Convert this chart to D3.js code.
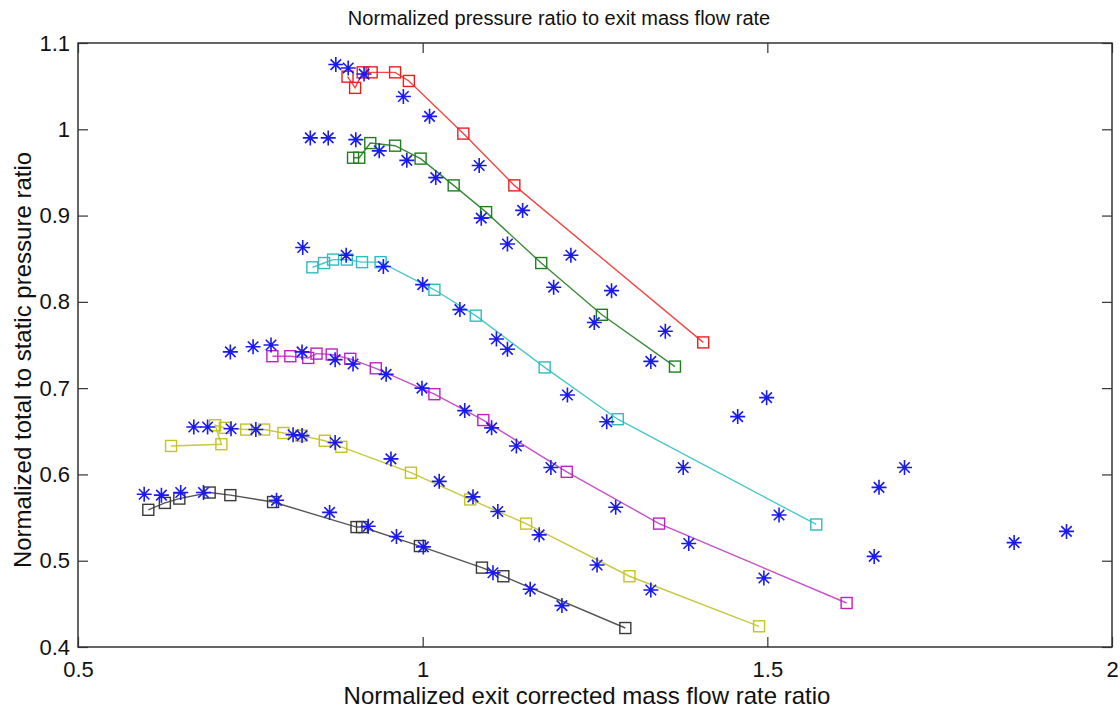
<!DOCTYPE html>
<html>
<head>
<meta charset="utf-8">
<script src="https://cdn.jsdelivr.net/npm/d3@7"></script>
<style>
  body { margin: 0; background: #fff; }
  text { font-family: Arial, "Liberation Sans", sans-serif; fill: #111; }
</style>
</head>
<body>
<div id="chart"></div>
<script>
// measured curves (squares + line)
let redX = [0.891, 0.902, 0.913, 0.926, 0.960, 0.980, 1.059, 1.133, 1.407],
  redY = [1.061, 1.048, 1.066, 1.066, 1.066, 1.056, 0.995, 0.935, 0.753];
let greenX = [0.899, 0.908, 0.924, 0.960, 0.997, 1.045, 1.092, 1.172, 1.260, 1.366],
  greenY = [0.967, 0.967, 0.984, 0.981, 0.966, 0.935, 0.904, 0.845, 0.785, 0.725];
let cyanX = [0.840, 0.857, 0.870, 0.890, 0.912, 0.939, 1.017, 1.077, 1.177, 1.283, 1.571],
  cyanY = [0.840, 0.845, 0.849, 0.849, 0.846, 0.846, 0.814, 0.784, 0.724, 0.664, 0.542];
let magentaX = [0.782, 0.808, 0.834, 0.846, 0.868, 0.895, 0.932, 1.017, 1.088, 1.209, 1.343, 1.615],
  magentaY = [0.737, 0.737, 0.735, 0.740, 0.739, 0.734, 0.723, 0.693, 0.663, 0.603, 0.543, 0.451];
let yellowX = [0.635, 0.708, 0.699, 0.713, 0.744, 0.770, 0.798, 0.824, 0.858, 0.882, 0.983, 1.069, 1.150, 1.300, 1.488],
  yellowY = [0.633, 0.635, 0.657, 0.654, 0.652, 0.652, 0.648, 0.645, 0.639, 0.632, 0.602, 0.571, 0.543, 0.482, 0.424];
let blackX = [0.602, 0.626, 0.647, 0.691, 0.721, 0.783, 0.904, 0.912, 0.996, 1.086, 1.117, 1.294],
  blackY = [0.559, 0.567, 0.572, 0.579, 0.576, 0.568, 0.539, 0.539, 0.517, 0.492, 0.482, 0.422];

// predicted points (blue asterisks)
let starX = [
  0.874, 0.892, 0.915, 0.972, 1.010, 1.082, 1.145, 1.215, 1.274, 1.352,
  0.837, 0.863, 0.903, 0.937, 0.977, 1.019, 1.085, 1.123, 1.190, 1.249, 1.331,
  0.826, 0.889, 0.943, 1.000, 1.054, 1.107, 1.123, 1.210, 1.267, 1.378, 1.517,
  1.457, 1.499, 1.662, 1.699, 1.655, 1.858, 1.934,
  0.721, 0.754, 0.780, 0.825, 0.873, 0.899, 0.947, 0.999, 1.061, 1.100, 1.136,
  1.186, 1.280, 1.386, 1.495,
  0.668, 0.688, 0.722, 0.758, 0.812, 0.825, 0.873, 0.954, 1.024, 1.073, 1.109,
  1.169, 1.253, 1.331,
  0.596, 0.621, 0.649, 0.682, 0.788, 0.865, 0.921, 0.962, 1.001, 1.102, 1.156, 1.202
];
let starY = [
  1.075, 1.071, 1.064, 1.038, 1.015, 0.958, 0.906, 0.854, 0.813, 0.766,
  0.990, 0.990, 0.988, 0.975, 0.964, 0.944, 0.897, 0.867, 0.817, 0.776, 0.731,
  0.863, 0.854, 0.841, 0.820, 0.791, 0.757, 0.745, 0.692, 0.661, 0.608, 0.553,
  0.667, 0.689, 0.585, 0.608, 0.505, 0.521, 0.534,
  0.742, 0.748, 0.750, 0.742, 0.733, 0.728, 0.716, 0.700, 0.674, 0.654, 0.633,
  0.608, 0.562, 0.520, 0.480,
  0.655, 0.655, 0.653, 0.652, 0.646, 0.645, 0.637, 0.618, 0.592, 0.574, 0.557,
  0.530, 0.495, 0.466,
  0.577, 0.576, 0.579, 0.579, 0.570, 0.556, 0.540, 0.528, 0.516, 0.486, 0.467, 0.448
];

let xTicks = [0.5, 1, 1.5, 2],
  yTicks = [0.4, 0.5, 0.6, 0.7, 0.8, 0.9, 1, 1.1];

let series = [
  { name: "red", xs: redX, ys: redY, line: "#f04848", mark: "#e82020" },
  { name: "green", xs: greenX, ys: greenY, line: "#3a8a3a", mark: "#1f7f1f" },
  { name: "cyan", xs: cyanX, ys: cyanY, line: "#48c8c8", mark: "#2ebcbc" },
  { name: "magenta", xs: magentaX, ys: magentaY, line: "#c850c8", mark: "#c020c0" },
  { name: "yellow", xs: yellowX, ys: yellowY, line: "#c8c840", mark: "#c4c420" },
  { name: "black", xs: blackX, ys: blackY, line: "#555555", mark: "#3a3a3a" }
];

let draw = () => {
  var margin = { top: 43, right: 8, bottom: 61, left: 78 },
    width = 1120 - margin.left - margin.right,
    height = 708 - margin.top - margin.bottom;

  var root = d3
    .select("#chart")
    .append("svg")
    .attr("width", 1120)
    .attr("height", 708);

  var svg = root
    .append("g")
    .attr("transform", `translate(${margin.left}, ${margin.top})`);

  var Xaxis = d3.scaleLinear().range([0, width]).domain([0.5, 2]),
    Yaxis = d3.scaleLinear().range([height, 0]).domain([0.4, 1.1]),
    fmt = (v) => String(+v.toFixed(1));

  // axes, ticks pointing inward like matlab
  var styleAxis = (g) => {
    g.select(".domain").remove();
    g.selectAll(".tick line").attr("stroke", "#333").attr("stroke-width", 1.2);
    g.selectAll(".tick text")
      .style("font-size", "22px")
      .attr("fill", "#111");
  };

  svg
    .append("g")
    .attr("transform", `translate(0, ${height})`)
    .call(d3.axisBottom(Xaxis).tickValues(xTicks).tickFormat(fmt).tickSizeInner(-10).tickSizeOuter(0).tickPadding(14))
    .call(styleAxis);
  svg
    .append("g")
    .call(d3.axisTop(Xaxis).tickValues(xTicks).tickFormat("").tickSizeInner(-10).tickSizeOuter(0))
    .call(styleAxis);
  svg
    .append("g")
    .call(d3.axisLeft(Yaxis).tickValues(yTicks).tickFormat(fmt).tickSizeInner(-10).tickSizeOuter(0).tickPadding(8))
    .call(styleAxis);
  svg
    .append("g")
    .attr("transform", `translate(${width}, 0)`)
    .call(d3.axisRight(Yaxis).tickValues(yTicks).tickFormat("").tickSizeInner(-10).tickSizeOuter(0))
    .call(styleAxis);

  svg
    .append("rect")
    .attr("width", width)
    .attr("height", height)
    .attr("fill", "none")
    .attr("stroke", "#333")
    .attr("stroke-width", 1.5);

  // curves with square markers
  var Line = d3
    .line()
    .x((d) => Xaxis(d[0]))
    .y((d) => Yaxis(d[1]));

  series.forEach((s) => {
    var pts = s.xs.map((x, i) => [x, s.ys[i]]);
    svg
      .append("path")
      .attr("d", Line(pts))
      .attr("fill", "none")
      .attr("stroke", s.line)
      .attr("stroke-width", 1.4);
    svg
      .selectAll()
      .data(pts)
      .enter()
      .append("rect")
      .attr("x", (d) => Xaxis(d[0]) - 5.5)
      .attr("y", (d) => Yaxis(d[1]) - 5.5)
      .attr("width", 11)
      .attr("height", 11)
      .attr("fill", "none")
      .attr("stroke", s.mark)
      .attr("stroke-width", 1.4);
  });

  // asterisks
  var r = 7.5,
    q = r * 0.7,
    star = `M0,${-r}V${r}M${-r},0H${r}M${-q},${-q}L${q},${q}M${-q},${q}L${q},${-q}`;

  svg
    .selectAll()
    .data(starX.map((x, i) => [x, starY[i]]))
    .enter()
    .append("path")
    .attr("transform", (d) => `translate(${Xaxis(d[0])}, ${Yaxis(d[1])})`)
    .attr("d", star)
    .attr("fill", "none")
    .attr("stroke", "#1a1aee")
    .attr("stroke-width", 1.6);

  // titles
  root
    .append("text")
    .attr("x", 559)
    .attr("y", 25)
    .attr("text-anchor", "middle")
    .style("font-size", "20px")
    .text("Normalized pressure ratio to exit mass flow rate");
  root
    .append("text")
    .attr("x", 587)
    .attr("y", 704)
    .attr("text-anchor", "middle")
    .style("font-size", "24px")
    .text("Normalized exit corrected mass flow rate ratio");
  root
    .append("text")
    .attr("transform", "translate(31, 360) rotate(-90)")
    .attr("text-anchor", "middle")
    .style("font-size", "24px")
    .text("Normalized total to static pressure ratio");
};

draw();
</script>
</body>
</html>
